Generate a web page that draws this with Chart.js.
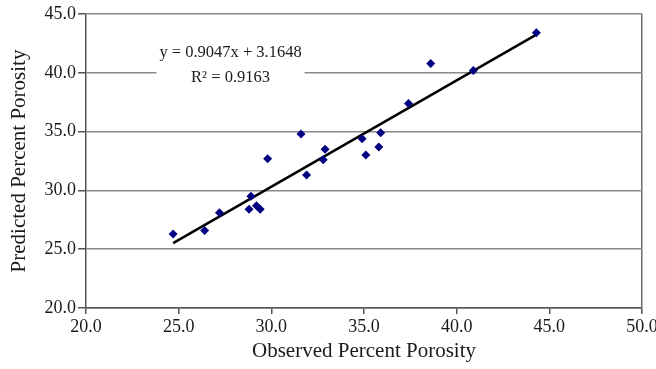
<!DOCTYPE html>
<html>
<head>
<meta charset="utf-8">
<script src="https://cdn.jsdelivr.net/npm/chart.js@4"></script>
<style>
  html, body { margin: 0; padding: 0; background: #fff; }
  #wrap { width: 656px; height: 369px; }
</style>
</head>
<body>
<div id="wrap"><canvas id="myChart" width="656" height="369"></canvas></div>
<script>
// observed vs predicted porosity (%)
var observed  = [24.7, 26.4, 27.2, 28.8, 28.9, 29.2, 29.4, 29.8, 31.6, 31.9, 32.8, 32.9, 34.9, 35.1, 35.8, 35.9, 37.4, 38.6, 40.9, 44.3];
var predicted = [26.3, 26.6, 28.1, 28.4, 29.5, 28.7, 28.4, 32.7, 34.8, 31.3, 32.6, 33.5, 34.4, 33.0, 33.7, 34.9, 37.4, 40.8, 40.2, 43.4];

// trendline ends
var trendX = [24.7, 44.3];
var trendY = [25.51, 43.24];

var eqLabel = ['y = 0.9047x + 3.1648', 'R\u00b2 = 0.9163'];
var xTicks = [20, 25, 30, 35, 40, 45, 50];
var yTicks = [20, 25, 30, 35, 40, 45];

var serif = '"Liberation Serif", "Times New Roman", serif';
var gridGrey = '#8a8a8a';

var points = observed.map(function (x, i) { return { x: x, y: predicted[i] }; });
var trend = trendX.map(function (x, i) { return { x: x, y: trendY[i] }; });

// white box with the equation, covers the 40 gridline
var eqBox = {
  id: 'eqBox',
  beforeDatasetsDraw: function (chart) {
    var ctx = chart.ctx;
    var cx = chart.scales.x.getPixelForValue(27.8);
    var cy = chart.scales.y.getPixelForValue(40.7);
    ctx.save();
    ctx.fillStyle = '#fff';
    ctx.fillRect(cx - 74, cy - 24, 148, 48);
    ctx.fillStyle = '#1a1a1a';
    ctx.font = '16.5px ' + serif;
    ctx.textAlign = 'center';
    ctx.textBaseline = 'middle';
    ctx.fillText(eqLabel[0], cx, cy - 12);
    ctx.fillText(eqLabel[1], cx, cy + 13);
    ctx.restore();
  }
};

new Chart('myChart', {
  type: 'scatter',
  data: {
    datasets: [{
      label: 'data',
      data: points,
      pointStyle: 'rectRot',
      pointRadius: 4.5,
      backgroundColor: '#000080',
      borderColor: '#000080',
      borderWidth: 0,
      order: 1
    }, {
      type: 'line',
      label: 'trend',
      data: trend,
      borderColor: '#000',
      borderWidth: 2.5,
      pointRadius: 0,
      fill: false,
      order: 2
    }]
  },
  options: {
    responsive: false,
    animation: false,
    layout: { padding: { top: 14, right: 14, left: 7, bottom: 0 } },
    plugins: {
      legend: { display: false },
      tooltip: { enabled: false }
    },
    scales: {
      x: {
        type: 'linear',
        min: 20, max: 50,
        afterBuildTicks: function (s) { s.ticks = xTicks.map(function (v) { return { value: v }; }); },
        afterFit: function (s) { s.height = 61; s.paddingRight = 0; },
        ticks: {
          color: '#1a1a1a',
          font: { family: serif, size: 18 },
          padding: 2,
          maxRotation: 0,
          callback: function (v) { return Number(v).toFixed(1); }
        },
        grid: {
          drawOnChartArea: true,
          color: function (c) { return c.tick && c.tick.value === 50 ? '#6e6e6e' : 'rgba(0,0,0,0)'; },
          tickColor: '#555',
          tickLength: 6,
          lineWidth: 1.5
        },
        border: { color: '#555', width: 1.5 },
        title: {
          display: true,
          text: 'Observed Percent Porosity',
          color: '#1a1a1a',
          font: { family: serif, size: 21 },
          padding: { top: 2, bottom: 5 }
        }
      },
      y: {
        type: 'linear',
        min: 20, max: 45,
        afterBuildTicks: function (s) { s.ticks = yTicks.map(function (v) { return { value: v }; }); },
        afterFit: function (s) { s.width = 79; },
        ticks: {
          color: '#1a1a1a',
          font: { family: serif, size: 18 },
          padding: 2,
          callback: function (v) { return Number(v).toFixed(1); }
        },
        grid: {
          color: gridGrey,
          tickColor: '#555',
          tickLength: 8,
          lineWidth: 1.5
        },
        border: { color: '#555', width: 1.5 },
        title: {
          display: true,
          text: 'Predicted Percent Porosity',
          color: '#1a1a1a',
          font: { family: serif, size: 21 },
          padding: { top: 0, bottom: 2 }
        }
      }
    }
  },
  plugins: [eqBox]
});
</script>
</body>
</html>
